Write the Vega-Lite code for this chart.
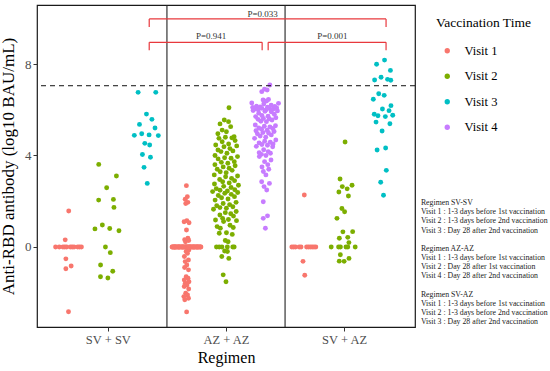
{
"$schema":"https://vega.github.io/schema/vega-lite/v6.json",
"width":378,"height":322,
"autosize":{"type":"none"},
"padding":{"left":37,"top":5,"right":135,"bottom":44},
"background":"white",
"config":{
 "font":"Liberation Serif",
 "view":{"stroke":"#1a1a1a","strokeWidth":1.2},
 "axis":{"grid":false,"domain":false,"tickColor":"#333","tickSize":4,"labelFont":"Liberation Serif","titleFont":"Liberation Serif","titleFontWeight":"normal","labelColor":"#4d4d4d","titleColor":"#000"},
 "legend":{"titleFont":"Liberation Serif","titleFontSize":13.5,"titleFontWeight":"normal","titleColor":"#000","labelFont":"Liberation Serif","labelFontSize":12.5,"labelColor":"#000","symbolType":"circle","symbolSize":28,"symbolStrokeWidth":0,"symbolOpacity":1,"rowPadding":12.5,"titlePadding":15,"symbolOffset":5,"labelOffset":11,"padding":0}
},
"datasets":{
"pts":[
{"Regimen":"SV + SV","Visit":"Visit 1","value":1.57},{"Regimen":"SV + SV","Visit":"Visit 1","value":0.31},
{"Regimen":"SV + SV","Visit":"Visit 1","value":0},{"Regimen":"SV + SV","Visit":"Visit 1","value":0},{"Regimen":"SV + SV","Visit":"Visit 1","value":0},{"Regimen":"SV + SV","Visit":"Visit 1","value":0},{"Regimen":"SV + SV","Visit":"Visit 1","value":0},{"Regimen":"SV + SV","Visit":"Visit 1","value":0},{"Regimen":"SV + SV","Visit":"Visit 1","value":0},{"Regimen":"SV + SV","Visit":"Visit 1","value":0},{"Regimen":"SV + SV","Visit":"Visit 1","value":0},{"Regimen":"SV + SV","Visit":"Visit 1","value":0},{"Regimen":"SV + SV","Visit":"Visit 1","value":0},
{"Regimen":"SV + SV","Visit":"Visit 1","value":-0.52},{"Regimen":"SV + SV","Visit":"Visit 1","value":-0.83},{"Regimen":"SV + SV","Visit":"Visit 1","value":-0.95},{"Regimen":"SV + SV","Visit":"Visit 1","value":-2.83},
{"Regimen":"SV + SV","Visit":"Visit 2","value":3.61},{"Regimen":"SV + SV","Visit":"Visit 2","value":3.10},{"Regimen":"SV + SV","Visit":"Visit 2","value":2.59},{"Regimen":"SV + SV","Visit":"Visit 2","value":2.05},{"Regimen":"SV + SV","Visit":"Visit 2","value":2.08},{"Regimen":"SV + SV","Visit":"Visit 2","value":1.73},{"Regimen":"SV + SV","Visit":"Visit 2","value":0.96},{"Regimen":"SV + SV","Visit":"Visit 2","value":0.79},{"Regimen":"SV + SV","Visit":"Visit 2","value":0.81},{"Regimen":"SV + SV","Visit":"Visit 2","value":0.71},{"Regimen":"SV + SV","Visit":"Visit 2","value":0},{"Regimen":"SV + SV","Visit":"Visit 2","value":-0.25},{"Regimen":"SV + SV","Visit":"Visit 2","value":-0.79},{"Regimen":"SV + SV","Visit":"Visit 2","value":-1.06},{"Regimen":"SV + SV","Visit":"Visit 2","value":-1.30},{"Regimen":"SV + SV","Visit":"Visit 2","value":-1.36},
{"Regimen":"SV + SV","Visit":"Visit 3","value":6.76},{"Regimen":"SV + SV","Visit":"Visit 3","value":6.76},{"Regimen":"SV + SV","Visit":"Visit 3","value":5.81},{"Regimen":"SV + SV","Visit":"Visit 3","value":5.58},{"Regimen":"SV + SV","Visit":"Visit 3","value":5.36},{"Regimen":"SV + SV","Visit":"Visit 3","value":5.20},{"Regimen":"SV + SV","Visit":"Visit 3","value":4.90},{"Regimen":"SV + SV","Visit":"Visit 3","value":4.95},{"Regimen":"SV + SV","Visit":"Visit 3","value":4.88},{"Regimen":"SV + SV","Visit":"Visit 3","value":4.87},{"Regimen":"SV + SV","Visit":"Visit 3","value":4.53},{"Regimen":"SV + SV","Visit":"Visit 3","value":4.46},{"Regimen":"SV + SV","Visit":"Visit 3","value":4.04},{"Regimen":"SV + SV","Visit":"Visit 3","value":3.92},{"Regimen":"SV + SV","Visit":"Visit 3","value":3.48},{"Regimen":"SV + SV","Visit":"Visit 3","value":2.78},
{"Regimen":"AZ + AZ","Visit":"Visit 1","value":2.68},{"Regimen":"AZ + AZ","Visit":"Visit 1","value":2.20},{"Regimen":"AZ + AZ","Visit":"Visit 1","value":2.09},{"Regimen":"AZ + AZ","Visit":"Visit 1","value":1.95},{"Regimen":"AZ + AZ","Visit":"Visit 1","value":1.90},{"Regimen":"AZ + AZ","Visit":"Visit 1","value":1.15},{"Regimen":"AZ + AZ","Visit":"Visit 1","value":1.06},{"Regimen":"AZ + AZ","Visit":"Visit 1","value":1.10},{"Regimen":"AZ + AZ","Visit":"Visit 1","value":0.74},{"Regimen":"AZ + AZ","Visit":"Visit 1","value":0.38},{"Regimen":"AZ + AZ","Visit":"Visit 1","value":0.32},{"Regimen":"AZ + AZ","Visit":"Visit 1","value":0.28},{"Regimen":"AZ + AZ","Visit":"Visit 1","value":0.23},{"Regimen":"AZ + AZ","Visit":"Visit 1","value":-0.13},{"Regimen":"AZ + AZ","Visit":"Visit 1","value":-0.20},{"Regimen":"AZ + AZ","Visit":"Visit 1","value":-0.28},{"Regimen":"AZ + AZ","Visit":"Visit 1","value":-0.42},{"Regimen":"AZ + AZ","Visit":"Visit 1","value":-0.57},{"Regimen":"AZ + AZ","Visit":"Visit 1","value":-0.64},{"Regimen":"AZ + AZ","Visit":"Visit 1","value":-0.79},{"Regimen":"AZ + AZ","Visit":"Visit 1","value":-0.90},{"Regimen":"AZ + AZ","Visit":"Visit 1","value":-1.00},{"Regimen":"AZ + AZ","Visit":"Visit 1","value":-1.30},{"Regimen":"AZ + AZ","Visit":"Visit 1","value":-1.37},{"Regimen":"AZ + AZ","Visit":"Visit 1","value":-1.44},{"Regimen":"AZ + AZ","Visit":"Visit 1","value":-1.52},{"Regimen":"AZ + AZ","Visit":"Visit 1","value":-1.59},{"Regimen":"AZ + AZ","Visit":"Visit 1","value":-1.66},{"Regimen":"AZ + AZ","Visit":"Visit 1","value":-1.73},{"Regimen":"AZ + AZ","Visit":"Visit 1","value":-1.84},{"Regimen":"AZ + AZ","Visit":"Visit 1","value":-2.02},{"Regimen":"AZ + AZ","Visit":"Visit 1","value":-2.10},{"Regimen":"AZ + AZ","Visit":"Visit 1","value":-2.17},{"Regimen":"AZ + AZ","Visit":"Visit 1","value":-2.24},{"Regimen":"AZ + AZ","Visit":"Visit 1","value":-2.31},{"Regimen":"AZ + AZ","Visit":"Visit 1","value":-2.84},
{"Regimen":"AZ + AZ","Visit":"Visit 1","value":0},{"Regimen":"AZ + AZ","Visit":"Visit 1","value":0},{"Regimen":"AZ + AZ","Visit":"Visit 1","value":0},{"Regimen":"AZ + AZ","Visit":"Visit 1","value":0},{"Regimen":"AZ + AZ","Visit":"Visit 1","value":0},{"Regimen":"AZ + AZ","Visit":"Visit 1","value":0},{"Regimen":"AZ + AZ","Visit":"Visit 1","value":0},{"Regimen":"AZ + AZ","Visit":"Visit 1","value":0},{"Regimen":"AZ + AZ","Visit":"Visit 1","value":0},{"Regimen":"AZ + AZ","Visit":"Visit 1","value":0},
{"Regimen":"AZ + AZ","Visit":"Visit 1","value":0},{"Regimen":"AZ + AZ","Visit":"Visit 1","value":0},{"Regimen":"AZ + AZ","Visit":"Visit 1","value":0},{"Regimen":"AZ + AZ","Visit":"Visit 1","value":0},{"Regimen":"AZ + AZ","Visit":"Visit 1","value":0},{"Regimen":"AZ + AZ","Visit":"Visit 1","value":0},{"Regimen":"AZ + AZ","Visit":"Visit 1","value":0},{"Regimen":"AZ + AZ","Visit":"Visit 1","value":0},{"Regimen":"AZ + AZ","Visit":"Visit 1","value":0},{"Regimen":"AZ + AZ","Visit":"Visit 1","value":0},
{"Regimen":"AZ + AZ","Visit":"Visit 1","value":0},{"Regimen":"AZ + AZ","Visit":"Visit 1","value":0},{"Regimen":"AZ + AZ","Visit":"Visit 1","value":0},{"Regimen":"AZ + AZ","Visit":"Visit 1","value":0},{"Regimen":"AZ + AZ","Visit":"Visit 1","value":0},{"Regimen":"AZ + AZ","Visit":"Visit 1","value":0},{"Regimen":"AZ + AZ","Visit":"Visit 1","value":0},{"Regimen":"AZ + AZ","Visit":"Visit 1","value":0},{"Regimen":"AZ + AZ","Visit":"Visit 1","value":0},{"Regimen":"AZ + AZ","Visit":"Visit 1","value":0},
{"Regimen":"AZ + AZ","Visit":"Visit 1","value":0},{"Regimen":"AZ + AZ","Visit":"Visit 1","value":0},{"Regimen":"AZ + AZ","Visit":"Visit 1","value":0},{"Regimen":"AZ + AZ","Visit":"Visit 1","value":0},{"Regimen":"AZ + AZ","Visit":"Visit 1","value":0},{"Regimen":"AZ + AZ","Visit":"Visit 1","value":0},{"Regimen":"AZ + AZ","Visit":"Visit 1","value":0},{"Regimen":"AZ + AZ","Visit":"Visit 1","value":0},{"Regimen":"AZ + AZ","Visit":"Visit 1","value":0},{"Regimen":"AZ + AZ","Visit":"Visit 1","value":0},
{"Regimen":"AZ + AZ","Visit":"Visit 1","value":0},{"Regimen":"AZ + AZ","Visit":"Visit 1","value":0},{"Regimen":"AZ + AZ","Visit":"Visit 1","value":0},{"Regimen":"AZ + AZ","Visit":"Visit 1","value":0},{"Regimen":"AZ + AZ","Visit":"Visit 1","value":0},{"Regimen":"AZ + AZ","Visit":"Visit 1","value":0},{"Regimen":"AZ + AZ","Visit":"Visit 1","value":0},{"Regimen":"AZ + AZ","Visit":"Visit 1","value":0},{"Regimen":"AZ + AZ","Visit":"Visit 1","value":0},{"Regimen":"AZ + AZ","Visit":"Visit 1","value":0},
{"Regimen":"AZ + AZ","Visit":"Visit 2","value":6.09},{"Regimen":"AZ + AZ","Visit":"Visit 2","value":5.55},{"Regimen":"AZ + AZ","Visit":"Visit 2","value":5.48},{"Regimen":"AZ + AZ","Visit":"Visit 2","value":5.26},{"Regimen":"AZ + AZ","Visit":"Visit 2","value":5.38},{"Regimen":"AZ + AZ","Visit":"Visit 2","value":5.11},{"Regimen":"AZ + AZ","Visit":"Visit 2","value":5.04},{"Regimen":"AZ + AZ","Visit":"Visit 2","value":4.95},{"Regimen":"AZ + AZ","Visit":"Visit 2","value":4.82},{"Regimen":"AZ + AZ","Visit":"Visit 2","value":4.75},{"Regimen":"AZ + AZ","Visit":"Visit 2","value":4.77},{"Regimen":"AZ + AZ","Visit":"Visit 2","value":4.80},{"Regimen":"AZ + AZ","Visit":"Visit 2","value":4.60},{"Regimen":"AZ + AZ","Visit":"Visit 2","value":4.65},
{"Regimen":"AZ + AZ","Visit":"Visit 2","value":4.46},{"Regimen":"AZ + AZ","Visit":"Visit 2","value":4.38},{"Regimen":"AZ + AZ","Visit":"Visit 2","value":4.42},{"Regimen":"AZ + AZ","Visit":"Visit 2","value":4.50},{"Regimen":"AZ + AZ","Visit":"Visit 2","value":4.24},{"Regimen":"AZ + AZ","Visit":"Visit 2","value":4.17},{"Regimen":"AZ + AZ","Visit":"Visit 2","value":4.10},{"Regimen":"AZ + AZ","Visit":"Visit 2","value":4.20},{"Regimen":"AZ + AZ","Visit":"Visit 2","value":4.30},{"Regimen":"AZ + AZ","Visit":"Visit 2","value":3.95},{"Regimen":"AZ + AZ","Visit":"Visit 2","value":3.88},{"Regimen":"AZ + AZ","Visit":"Visit 2","value":3.90},{"Regimen":"AZ + AZ","Visit":"Visit 2","value":4.00},{"Regimen":"AZ + AZ","Visit":"Visit 2","value":3.85},
{"Regimen":"AZ + AZ","Visit":"Visit 2","value":3.73},{"Regimen":"AZ + AZ","Visit":"Visit 2","value":3.66},{"Regimen":"AZ + AZ","Visit":"Visit 2","value":3.60},{"Regimen":"AZ + AZ","Visit":"Visit 2","value":3.70},{"Regimen":"AZ + AZ","Visit":"Visit 2","value":3.55},{"Regimen":"AZ + AZ","Visit":"Visit 2","value":3.44},{"Regimen":"AZ + AZ","Visit":"Visit 2","value":3.29},{"Regimen":"AZ + AZ","Visit":"Visit 2","value":3.35},{"Regimen":"AZ + AZ","Visit":"Visit 2","value":3.40},{"Regimen":"AZ + AZ","Visit":"Visit 2","value":3.50},{"Regimen":"AZ + AZ","Visit":"Visit 2","value":3.25},{"Regimen":"AZ + AZ","Visit":"Visit 2","value":3.07},{"Regimen":"AZ + AZ","Visit":"Visit 2","value":3.00},{"Regimen":"AZ + AZ","Visit":"Visit 2","value":3.10},{"Regimen":"AZ + AZ","Visit":"Visit 2","value":3.15},{"Regimen":"AZ + AZ","Visit":"Visit 2","value":2.95},
{"Regimen":"AZ + AZ","Visit":"Visit 2","value":2.85},{"Regimen":"AZ + AZ","Visit":"Visit 2","value":2.75},{"Regimen":"AZ + AZ","Visit":"Visit 2","value":2.80},{"Regimen":"AZ + AZ","Visit":"Visit 2","value":2.90},{"Regimen":"AZ + AZ","Visit":"Visit 2","value":2.70},{"Regimen":"AZ + AZ","Visit":"Visit 2","value":2.65},{"Regimen":"AZ + AZ","Visit":"Visit 2","value":2.60},{"Regimen":"AZ + AZ","Visit":"Visit 2","value":2.55},{"Regimen":"AZ + AZ","Visit":"Visit 2","value":2.50},{"Regimen":"AZ + AZ","Visit":"Visit 2","value":2.48},{"Regimen":"AZ + AZ","Visit":"Visit 2","value":2.42},{"Regimen":"AZ + AZ","Visit":"Visit 2","value":2.35},{"Regimen":"AZ + AZ","Visit":"Visit 2","value":2.45},{"Regimen":"AZ + AZ","Visit":"Visit 2","value":2.30},{"Regimen":"AZ + AZ","Visit":"Visit 2","value":2.38},
{"Regimen":"AZ + AZ","Visit":"Visit 2","value":2.20},{"Regimen":"AZ + AZ","Visit":"Visit 2","value":2.10},{"Regimen":"AZ + AZ","Visit":"Visit 2","value":2.15},{"Regimen":"AZ + AZ","Visit":"Visit 2","value":2.05},{"Regimen":"AZ + AZ","Visit":"Visit 2","value":2.25},{"Regimen":"AZ + AZ","Visit":"Visit 2","value":1.95},{"Regimen":"AZ + AZ","Visit":"Visit 2","value":1.90},{"Regimen":"AZ + AZ","Visit":"Visit 2","value":1.85},{"Regimen":"AZ + AZ","Visit":"Visit 2","value":1.76},{"Regimen":"AZ + AZ","Visit":"Visit 2","value":1.69},{"Regimen":"AZ + AZ","Visit":"Visit 2","value":1.80},{"Regimen":"AZ + AZ","Visit":"Visit 2","value":1.72},{"Regimen":"AZ + AZ","Visit":"Visit 2","value":1.65},
{"Regimen":"AZ + AZ","Visit":"Visit 2","value":1.50},{"Regimen":"AZ + AZ","Visit":"Visit 2","value":1.45},{"Regimen":"AZ + AZ","Visit":"Visit 2","value":1.55},{"Regimen":"AZ + AZ","Visit":"Visit 2","value":1.40},{"Regimen":"AZ + AZ","Visit":"Visit 2","value":1.35},{"Regimen":"AZ + AZ","Visit":"Visit 2","value":1.18},{"Regimen":"AZ + AZ","Visit":"Visit 2","value":1.11},{"Regimen":"AZ + AZ","Visit":"Visit 2","value":1.20},{"Regimen":"AZ + AZ","Visit":"Visit 2","value":1.15},{"Regimen":"AZ + AZ","Visit":"Visit 2","value":1.25},{"Regimen":"AZ + AZ","Visit":"Visit 2","value":0.89},{"Regimen":"AZ + AZ","Visit":"Visit 2","value":0.82},{"Regimen":"AZ + AZ","Visit":"Visit 2","value":0.85},{"Regimen":"AZ + AZ","Visit":"Visit 2","value":0.95},
{"Regimen":"AZ + AZ","Visit":"Visit 2","value":0.60},{"Regimen":"AZ + AZ","Visit":"Visit 2","value":0.62},{"Regimen":"AZ + AZ","Visit":"Visit 2","value":0.55},{"Regimen":"AZ + AZ","Visit":"Visit 2","value":0.23},{"Regimen":"AZ + AZ","Visit":"Visit 2","value":0.28},{"Regimen":"AZ + AZ","Visit":"Visit 2","value":0},{"Regimen":"AZ + AZ","Visit":"Visit 2","value":0},{"Regimen":"AZ + AZ","Visit":"Visit 2","value":0},{"Regimen":"AZ + AZ","Visit":"Visit 2","value":0},{"Regimen":"AZ + AZ","Visit":"Visit 2","value":0},{"Regimen":"AZ + AZ","Visit":"Visit 2","value":0},{"Regimen":"AZ + AZ","Visit":"Visit 2","value":-0.20},{"Regimen":"AZ + AZ","Visit":"Visit 2","value":-0.18},{"Regimen":"AZ + AZ","Visit":"Visit 2","value":-0.42},{"Regimen":"AZ + AZ","Visit":"Visit 2","value":-0.50},{"Regimen":"AZ + AZ","Visit":"Visit 2","value":-1.22},{"Regimen":"AZ + AZ","Visit":"Visit 2","value":-1.52},
{"Regimen":"AZ + AZ","Visit":"Visit 4","value":7.08},{"Regimen":"AZ + AZ","Visit":"Visit 4","value":6.86},{"Regimen":"AZ + AZ","Visit":"Visit 4","value":6.79},{"Regimen":"AZ + AZ","Visit":"Visit 4","value":6.90},{"Regimen":"AZ + AZ","Visit":"Visit 4","value":6.43},{"Regimen":"AZ + AZ","Visit":"Visit 4","value":6.45},{"Regimen":"AZ + AZ","Visit":"Visit 4","value":6.38},{"Regimen":"AZ + AZ","Visit":"Visit 4","value":6.28},{"Regimen":"AZ + AZ","Visit":"Visit 4","value":6.20},{"Regimen":"AZ + AZ","Visit":"Visit 4","value":6.25},{"Regimen":"AZ + AZ","Visit":"Visit 4","value":6.30},
{"Regimen":"AZ + AZ","Visit":"Visit 4","value":6.15},{"Regimen":"AZ + AZ","Visit":"Visit 4","value":6.12},{"Regimen":"AZ + AZ","Visit":"Visit 4","value":6.10},{"Regimen":"AZ + AZ","Visit":"Visit 4","value":6.08},{"Regimen":"AZ + AZ","Visit":"Visit 4","value":6.05},{"Regimen":"AZ + AZ","Visit":"Visit 4","value":6.03},{"Regimen":"AZ + AZ","Visit":"Visit 4","value":6.00},{"Regimen":"AZ + AZ","Visit":"Visit 4","value":5.98},{"Regimen":"AZ + AZ","Visit":"Visit 4","value":5.95},{"Regimen":"AZ + AZ","Visit":"Visit 4","value":5.93},{"Regimen":"AZ + AZ","Visit":"Visit 4","value":5.91},{"Regimen":"AZ + AZ","Visit":"Visit 4","value":6.06},{"Regimen":"AZ + AZ","Visit":"Visit 4","value":6.02},{"Regimen":"AZ + AZ","Visit":"Visit 4","value":5.97},{"Regimen":"AZ + AZ","Visit":"Visit 4","value":6.11},{"Regimen":"AZ + AZ","Visit":"Visit 4","value":6.14},
{"Regimen":"AZ + AZ","Visit":"Visit 4","value":5.80},{"Regimen":"AZ + AZ","Visit":"Visit 4","value":5.75},{"Regimen":"AZ + AZ","Visit":"Visit 4","value":5.70},{"Regimen":"AZ + AZ","Visit":"Visit 4","value":5.65},{"Regimen":"AZ + AZ","Visit":"Visit 4","value":5.60},{"Regimen":"AZ + AZ","Visit":"Visit 4","value":5.55},{"Regimen":"AZ + AZ","Visit":"Visit 4","value":5.50},{"Regimen":"AZ + AZ","Visit":"Visit 4","value":5.48},{"Regimen":"AZ + AZ","Visit":"Visit 4","value":5.72},{"Regimen":"AZ + AZ","Visit":"Visit 4","value":5.62},{"Regimen":"AZ + AZ","Visit":"Visit 4","value":5.85},{"Regimen":"AZ + AZ","Visit":"Visit 4","value":5.58},
{"Regimen":"AZ + AZ","Visit":"Visit 4","value":5.33},{"Regimen":"AZ + AZ","Visit":"Visit 4","value":5.30},{"Regimen":"AZ + AZ","Visit":"Visit 4","value":5.25},{"Regimen":"AZ + AZ","Visit":"Visit 4","value":5.20},{"Regimen":"AZ + AZ","Visit":"Visit 4","value":5.15},{"Regimen":"AZ + AZ","Visit":"Visit 4","value":5.10},{"Regimen":"AZ + AZ","Visit":"Visit 4","value":5.05},{"Regimen":"AZ + AZ","Visit":"Visit 4","value":5.00},{"Regimen":"AZ + AZ","Visit":"Visit 4","value":4.95},{"Regimen":"AZ + AZ","Visit":"Visit 4","value":4.90},{"Regimen":"AZ + AZ","Visit":"Visit 4","value":5.28},{"Regimen":"AZ + AZ","Visit":"Visit 4","value":5.18},{"Regimen":"AZ + AZ","Visit":"Visit 4","value":5.08},{"Regimen":"AZ + AZ","Visit":"Visit 4","value":4.98},
{"Regimen":"AZ + AZ","Visit":"Visit 4","value":4.85},{"Regimen":"AZ + AZ","Visit":"Visit 4","value":4.80},{"Regimen":"AZ + AZ","Visit":"Visit 4","value":4.75},{"Regimen":"AZ + AZ","Visit":"Visit 4","value":4.68},{"Regimen":"AZ + AZ","Visit":"Visit 4","value":4.62},{"Regimen":"AZ + AZ","Visit":"Visit 4","value":4.55},{"Regimen":"AZ + AZ","Visit":"Visit 4","value":4.50},{"Regimen":"AZ + AZ","Visit":"Visit 4","value":4.45},{"Regimen":"AZ + AZ","Visit":"Visit 4","value":4.40},{"Regimen":"AZ + AZ","Visit":"Visit 4","value":4.58},{"Regimen":"AZ + AZ","Visit":"Visit 4","value":4.48},{"Regimen":"AZ + AZ","Visit":"Visit 4","value":4.38},
{"Regimen":"AZ + AZ","Visit":"Visit 4","value":4.25},{"Regimen":"AZ + AZ","Visit":"Visit 4","value":4.17},{"Regimen":"AZ + AZ","Visit":"Visit 4","value":4.10},{"Regimen":"AZ + AZ","Visit":"Visit 4","value":4.05},{"Regimen":"AZ + AZ","Visit":"Visit 4","value":4.00},{"Regimen":"AZ + AZ","Visit":"Visit 4","value":3.95},{"Regimen":"AZ + AZ","Visit":"Visit 4","value":4.12},{"Regimen":"AZ + AZ","Visit":"Visit 4","value":3.80},{"Regimen":"AZ + AZ","Visit":"Visit 4","value":3.73},{"Regimen":"AZ + AZ","Visit":"Visit 4","value":3.60},{"Regimen":"AZ + AZ","Visit":"Visit 4","value":3.50},{"Regimen":"AZ + AZ","Visit":"Visit 4","value":3.40},{"Regimen":"AZ + AZ","Visit":"Visit 4","value":3.30},{"Regimen":"AZ + AZ","Visit":"Visit 4","value":3.15},
{"Regimen":"AZ + AZ","Visit":"Visit 4","value":2.85},{"Regimen":"AZ + AZ","Visit":"Visit 4","value":2.78},{"Regimen":"AZ + AZ","Visit":"Visit 4","value":2.64},{"Regimen":"AZ + AZ","Visit":"Visit 4","value":2.49},{"Regimen":"AZ + AZ","Visit":"Visit 4","value":1.98},{"Regimen":"AZ + AZ","Visit":"Visit 4","value":1.36},{"Regimen":"AZ + AZ","Visit":"Visit 4","value":1.25},{"Regimen":"AZ + AZ","Visit":"Visit 4","value":0.82},
{"Regimen":"SV + AZ","Visit":"Visit 1","value":2.27},{"Regimen":"SV + AZ","Visit":"Visit 1","value":0},{"Regimen":"SV + AZ","Visit":"Visit 1","value":0},{"Regimen":"SV + AZ","Visit":"Visit 1","value":0},{"Regimen":"SV + AZ","Visit":"Visit 1","value":0},{"Regimen":"SV + AZ","Visit":"Visit 1","value":0},{"Regimen":"SV + AZ","Visit":"Visit 1","value":0},{"Regimen":"SV + AZ","Visit":"Visit 1","value":0},{"Regimen":"SV + AZ","Visit":"Visit 1","value":0},{"Regimen":"SV + AZ","Visit":"Visit 1","value":0},{"Regimen":"SV + AZ","Visit":"Visit 1","value":0},{"Regimen":"SV + AZ","Visit":"Visit 1","value":0},{"Regimen":"SV + AZ","Visit":"Visit 1","value":-0.63},{"Regimen":"SV + AZ","Visit":"Visit 1","value":-1.24},
{"Regimen":"SV + AZ","Visit":"Visit 2","value":4.59},{"Regimen":"SV + AZ","Visit":"Visit 2","value":2.97},{"Regimen":"SV + AZ","Visit":"Visit 2","value":2.64},{"Regimen":"SV + AZ","Visit":"Visit 2","value":2.54},{"Regimen":"SV + AZ","Visit":"Visit 2","value":2.70},{"Regimen":"SV + AZ","Visit":"Visit 2","value":2.40},{"Regimen":"SV + AZ","Visit":"Visit 2","value":2.23},{"Regimen":"SV + AZ","Visit":"Visit 2","value":1.68},{"Regimen":"SV + AZ","Visit":"Visit 2","value":1.54},{"Regimen":"SV + AZ","Visit":"Visit 2","value":1.25},{"Regimen":"SV + AZ","Visit":"Visit 2","value":0.67},{"Regimen":"SV + AZ","Visit":"Visit 2","value":0.66},{"Regimen":"SV + AZ","Visit":"Visit 2","value":0.38},{"Regimen":"SV + AZ","Visit":"Visit 2","value":0.42},{"Regimen":"SV + AZ","Visit":"Visit 2","value":0.19},
{"Regimen":"SV + AZ","Visit":"Visit 2","value":0},{"Regimen":"SV + AZ","Visit":"Visit 2","value":0},{"Regimen":"SV + AZ","Visit":"Visit 2","value":0},{"Regimen":"SV + AZ","Visit":"Visit 2","value":0},{"Regimen":"SV + AZ","Visit":"Visit 2","value":0},{"Regimen":"SV + AZ","Visit":"Visit 2","value":0},{"Regimen":"SV + AZ","Visit":"Visit 2","value":-0.34},{"Regimen":"SV + AZ","Visit":"Visit 2","value":-0.63},{"Regimen":"SV + AZ","Visit":"Visit 2","value":-0.62},{"Regimen":"SV + AZ","Visit":"Visit 2","value":-0.50},
{"Regimen":"SV + AZ","Visit":"Visit 3","value":8.17},{"Regimen":"SV + AZ","Visit":"Visit 3","value":7.99},{"Regimen":"SV + AZ","Visit":"Visit 3","value":7.72},{"Regimen":"SV + AZ","Visit":"Visit 3","value":7.42},{"Regimen":"SV + AZ","Visit":"Visit 3","value":7.33},{"Regimen":"SV + AZ","Visit":"Visit 3","value":7.30},{"Regimen":"SV + AZ","Visit":"Visit 3","value":7.29},{"Regimen":"SV + AZ","Visit":"Visit 3","value":6.70},{"Regimen":"SV + AZ","Visit":"Visit 3","value":6.63},{"Regimen":"SV + AZ","Visit":"Visit 3","value":6.46},{"Regimen":"SV + AZ","Visit":"Visit 3","value":6.18},{"Regimen":"SV + AZ","Visit":"Visit 3","value":6.03},{"Regimen":"SV + AZ","Visit":"Visit 3","value":5.96},
{"Regimen":"SV + AZ","Visit":"Visit 3","value":5.80},{"Regimen":"SV + AZ","Visit":"Visit 3","value":5.76},{"Regimen":"SV + AZ","Visit":"Visit 3","value":5.74},{"Regimen":"SV + AZ","Visit":"Visit 3","value":5.70},{"Regimen":"SV + AZ","Visit":"Visit 3","value":5.46},{"Regimen":"SV + AZ","Visit":"Visit 3","value":5.39},{"Regimen":"SV + AZ","Visit":"Visit 3","value":5.07},{"Regimen":"SV + AZ","Visit":"Visit 3","value":4.33},{"Regimen":"SV + AZ","Visit":"Visit 3","value":4.24},{"Regimen":"SV + AZ","Visit":"Visit 3","value":3.35},{"Regimen":"SV + AZ","Visit":"Visit 3","value":2.83},{"Regimen":"SV + AZ","Visit":"Visit 3","value":2.26}
],
"seps":[{"boundary":1.5},{"boundary":2.5}],
"thresh":[{"level":7.05}],
"brackets":[
{"from":1.35,"to":3.355,"y1":9.97,"y2":9.97},{"from":1.35,"to":1.35,"y1":9.97,"y2":9.62},{"from":3.355,"to":3.355,"y1":9.97,"y2":9.62},
{"from":1.35,"to":2.306,"y1":8.95,"y2":8.95},{"from":1.35,"to":1.35,"y1":8.95,"y2":8.6},{"from":2.306,"to":2.306,"y1":8.95,"y2":8.6},
{"from":2.357,"to":3.355,"y1":8.95,"y2":8.95},{"from":2.357,"to":2.357,"y1":8.95,"y2":8.6},{"from":3.355,"to":3.355,"y1":8.95,"y2":8.6}
],
"pvals":[{"label":"P=0.033","px":2.31,"py":10.2},{"label":"P=0.941","px":1.874,"py":9.22},{"label":"P=0.001","px":2.9,"py":9.22}],
"noteSV":[{"lines":["Regimen SV-SV","Visit 1 : 1-3 days before 1st vaccination","Visit 2 : 1-3 days before 2nd vaccination","Visit 3 : Day 28 after 2nd vaccination"]}],
"noteAZ":[{"lines":["Regimen AZ-AZ","Visit 1 : 1-3 days before 1st vaccination","Visit 2 : Day 28 after 1st vaccination","Visit 4 : Day 28 after 2nd vaccination"]}],
"noteSVAZ":[{"lines":["Regimen SV-AZ","Visit 1 : 1-3 days before 1st vaccination","Visit 2 : 1-3 days before 2nd vaccination","Visit 3 : Day 28 after 2nd vaccination"]}]
},
"layer":[
{"data":{"name":"pts"},
 "transform":[
  {"window":[{"op":"row_number","as":"r"}],"groupby":["Regimen","Visit"],"sort":[{"field":"value"}]},
  {"calculate":"datum.value==0 ? 'z' : ''+floor(datum.value/0.4)","as":"vb"},
  {"joinaggregate":[{"op":"count","as":"n"}],"groupby":["Regimen","Visit","vb"]},
  {"joinaggregate":[{"op":"max","field":"n","as":"maxn"}],"groupby":["Regimen","Visit"]},
  {"window":[{"op":"dense_rank","as":"slot"}],"groupby":["Regimen"],"sort":[{"field":"Visit"}]},
  {"calculate":"indexof(['SV + SV','AZ + AZ','SV + AZ'], datum.Regimen)+1","as":"ri"},
  {"calculate":"(datum.r%2)/2+(floor(datum.r/2)%2)/4+(floor(datum.r/4)%2)/8+(floor(datum.r/8)%2)/16+(floor(datum.r/16)%2)/32+(floor(datum.r/32)%2)/64+(floor(datum.r/64)%2)/128","as":"vdc"},
  {"calculate":"datum.ri+(datum.slot-2)/3+(datum.vdc-0.5)*0.25*pow(datum.n/datum.maxn,0.6)","as":"xp"}
 ],
 "mark":{"type":"circle","size":24,"opacity":1},
 "encoding":{
  "x":{"field":"xp","type":"quantitative","scale":{"domain":[0.4,3.6],"nice":false,"zero":false},
   "axis":{"values":[1,2,3],"labelExpr":"datum.value==1?'SV + SV':datum.value==2?'AZ + AZ':'SV + AZ'","title":"Regimen","labelFontSize":12.5,"titleFontSize":16,"labelPadding":2,"titlePadding":4}},
  "y":{"field":"value","type":"quantitative","scale":{"domain":[-3.5,10.58],"nice":false,"zero":false},
   "axis":{"values":[0,4,8],"title":"Anti-RBD antibody (log10 BAU/mL)","labelFontSize":13,"titleFontSize":17,"labelPadding":2,"titlePadding":7}},
  "color":{"field":"Visit","type":"nominal","scale":{"domain":["Visit 1","Visit 2","Visit 3","Visit 4"],"range":["#F8766D","#7CAE00","#00BFC4","#C77CFF"]},
   "legend":{"title":"Vaccination Time","orient":"none","legendX":399,"legendY":11}}
 }},
{"data":{"name":"seps"},"mark":{"type":"rule","color":"#222","strokeWidth":1.1},
 "encoding":{"x":{"field":"boundary","type":"quantitative","title":"Regimen"}}},
{"data":{"name":"thresh"},"mark":{"type":"rule","color":"#111","strokeWidth":1,"strokeDash":[5,4]},
 "encoding":{"y":{"field":"level","type":"quantitative","title":"Anti-RBD antibody (log10 BAU/mL)"}}},
{"data":{"name":"brackets"},"mark":{"type":"rule","color":"#e8383d","strokeWidth":1.2},
 "encoding":{"x":{"field":"from","type":"quantitative","title":"Regimen"},"x2":{"field":"to"},"y":{"field":"y1","type":"quantitative","title":"Anti-RBD antibody (log10 BAU/mL)"},"y2":{"field":"y2"}}},
{"data":{"name":"pvals"},"mark":{"type":"text","font":"Liberation Serif","fontSize":9,"color":"#333","align":"center","baseline":"middle"},
 "encoding":{"x":{"field":"px","type":"quantitative","title":"Regimen"},"y":{"field":"py","type":"quantitative","title":"Anti-RBD antibody (log10 BAU/mL)"},"text":{"field":"label"}}},
{"data":{"name":"noteSV"},"mark":{"type":"text","font":"Liberation Serif","fontSize":7.8,"lineHeight":9.2,"color":"#222","align":"left","baseline":"top"},
 "encoding":{"x":{"datum":3.65,"type":"quantitative"},"y":{"datum":2.1,"type":"quantitative"},"text":{"field":"lines"}}},
{"data":{"name":"noteAZ"},"mark":{"type":"text","font":"Liberation Serif","fontSize":7.8,"lineHeight":9.2,"color":"#222","align":"left","baseline":"top"},
 "encoding":{"x":{"datum":3.65,"type":"quantitative"},"y":{"datum":0.09,"type":"quantitative"},"text":{"field":"lines"}}},
{"data":{"name":"noteSVAZ"},"mark":{"type":"text","font":"Liberation Serif","fontSize":7.8,"lineHeight":9.2,"color":"#222","align":"left","baseline":"top"},
 "encoding":{"x":{"datum":3.65,"type":"quantitative"},"y":{"datum":-1.92,"type":"quantitative"},"text":{"field":"lines"}}}
]
}
